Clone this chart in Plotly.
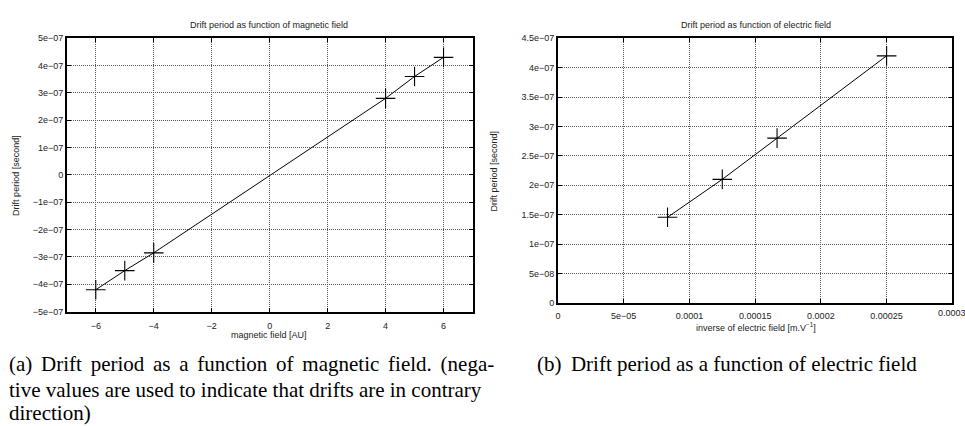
import plotly.graph_objects as go

# Drift period vs magnetic field (AU)
mag_field = [-6, -5, -4, 4, 5, 6]
mag_period = [-4.2e-7, -3.5e-7, -2.85e-7, 2.8e-7, 3.6e-7, 4.3e-7]

# Drift period vs inverse of electric field (m/V)
inv_efield = [1 / 12000, 1 / 8000, 1 / 6000, 1 / 4000]
elec_period = [1.455e-7, 2.1e-7, 2.8e-7, 4.2e-7]

mag_xticks = [-6, -4, -2, 0, 2, 4, 6]
mag_xticktext = ["\u22126", "\u22124", "\u22122", "0", "2", "4", "6"]
mag_yticks = [5e-7, 4e-7, 3e-7, 2e-7, 1e-7, 0, -1e-7, -2e-7, -3e-7, -4e-7, -5e-7]
mag_yticktext = ["5e\u221207", "4e\u221207", "3e\u221207", "2e\u221207", "1e\u221207", "0",
                 "\u22121e\u221207", "\u22122e\u221207", "\u22123e\u221207", "\u22124e\u221207",
                 "\u22125e\u221207"]

el_xticks = [0, 5e-5, 1e-4, 1.5e-4, 2e-4, 2.5e-4, 3e-4]
el_xticktext = ["0", "5e\u221205", "0.0001", "0.00015", "0.0002", "0.00025", "0.0003"]
el_yticks = [0, 5e-8, 1e-7, 1.5e-7, 2e-7, 2.5e-7, 3e-7, 3.5e-7, 4e-7, 4.5e-7]
el_yticktext = ["0", "5e\u221208", "1e\u221207", "1.5e\u221207", "2e\u221207", "2.5e\u221207",
                "3e\u221207", "3.5e\u221207", "4e\u221207", "4.5e\u221207"]

W, H = 965, 426
sans = "Liberation Sans, Arial, sans-serif"
serif = "Liberation Serif, Times New Roman, serif"
tick_color = "#222222"

fig = go.Figure()

marker = dict(symbol="cross-thin", size=14, color="black", line=dict(width=1.1, color="black"))
fig.add_trace(go.Scatter(x=mag_field, y=mag_period, mode="lines+markers",
                         line=dict(color="black", width=1), marker=marker,
                         xaxis="x", yaxis="y", showlegend=False))
fig.add_trace(go.Scatter(x=inv_efield, y=elec_period, mode="lines+markers",
                         line=dict(color="black", width=1), marker=marker,
                         xaxis="x2", yaxis="y2", showlegend=False))

axis_common = dict(
    showline=True, mirror="ticks", linecolor="black", linewidth=1.6,
    ticks="inside", ticklen=4, tickwidth=1, tickcolor="black",
    showgrid=True, gridcolor="#555555", griddash="1px,1px", gridwidth=1,
    zeroline=False, tickfont=dict(family=sans, size=9, color=tick_color),
    tickmode="array",
)


def px_x(v):
    return v / W


def px_y(v):
    return 1 - v / H


fig.update_layout(
    width=W, height=H, margin=dict(l=0, r=0, t=0, b=0),
    paper_bgcolor="white", plot_bgcolor="white",
    xaxis=dict(domain=[px_x(64), px_x(471)], range=[-7, 7], anchor="y",
               tickvals=mag_xticks, ticktext=mag_xticktext, ticklabelstandoff=5, **axis_common),
    yaxis=dict(domain=[px_y(314), px_y(34)], range=[-5e-7, 5e-7], anchor="x",
               tickvals=mag_yticks, ticktext=mag_yticktext, **axis_common),
    # the last tick sits on the frame; its label is placed separately below
    xaxis2=dict(domain=[px_x(556.7), px_x(952.3)], range=[0, 3e-4], anchor="y2",
                tickvals=el_xticks[:-1], ticktext=el_xticktext[:-1], ticklabelstandoff=4,
                **axis_common),
    yaxis2=dict(domain=[px_y(305), px_y(34)], range=[0, 4.5e-7], anchor="x2",
                tickvals=el_yticks, ticktext=el_yticktext, **axis_common),
)


def label(text, x, y, size=9, angle=0, family=sans, xanchor="center", color=tick_color):
    fig.add_annotation(text=text, x=px_x(x), y=px_y(y), xref="paper", yref="paper",
                       showarrow=False, textangle=angle, xanchor=xanchor, yanchor="middle",
                       font=dict(family=family, size=size, color=color))


# last x tick label of the right panel, running off the page edge
fig.add_annotation(text=el_xticktext[-1], x=el_xticks[-1], xref="x2", y=px_y(315), yref="paper",
                   showarrow=False, xanchor="center", yanchor="middle",
                   font=dict(family=sans, size=9, color=tick_color))

# plot titles and axis titles
label("Drift period as function of magnetic field", 267, 20)
label("magnetic field [AU]", 267, 338)
label("Drift period [second]", 13, 174, angle=-90)
label("Drift period as function of electric field", 755, 20)
label("inverse of electric field [m.V<sup>\u22121</sup>]", 755, 330)
label("Drift period [second]", 493, 170, angle=-90)

# captions (first line of (a) is set justified, with widened word gaps)
cap = dict(family=serif, size=21, xanchor="left", color="black")
wide_gap = " \u200a\u200a"
label(wide_gap.join("(a) Drift period as a function of magnetic field. (nega-".split(" ")),
      4, 368, **cap)
label("tive values are used to indicate that drifts are in contrary", 4, 394, **cap)
label("direction)", 4, 418, **cap)
label("(b)\u2009 Drift period as a function of electric field", 534, 368, **cap)

fig.write_html("out.html")
